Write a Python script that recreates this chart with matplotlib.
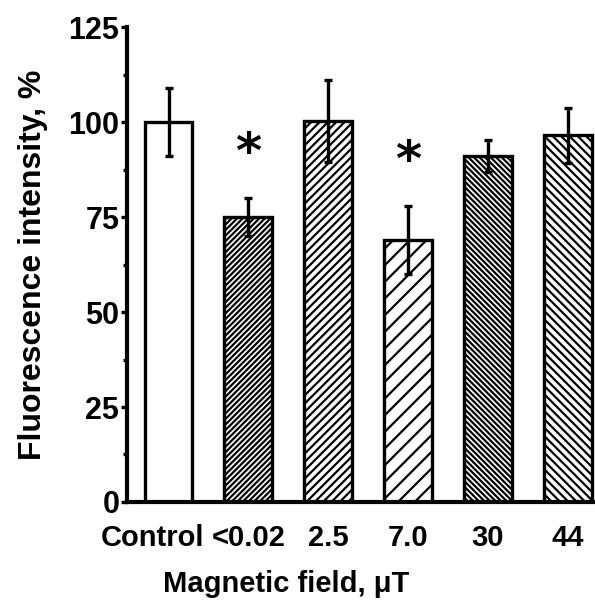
import matplotlib
matplotlib.use("Agg")
import matplotlib.pyplot as plt
import matplotlib.transforms as mtransforms
from matplotlib.ticker import MultipleLocator

# data
fields = ["Control", "<0.02", "2.5", "7.0", "30", "44"]
intensity = [100.0, 75.0, 100.3, 69.0, 91.0, 96.5]
sem = [9.0, 5.0, 10.8, 9.0, 4.2, 7.3]
signif = [False, True, False, True, False, False]
hatches = ["", "//////", "////", "//", "\\\\\\\\\\\\", "\\\\\\\\"]

plt.rcParams["font.family"] = ["Liberation Sans", "DejaVu Sans"]
plt.rcParams["font.weight"] = "bold"
plt.rcParams["hatch.linewidth"] = 1.6

fig = plt.figure(figsize=(5.95, 6.03), dpi=100)
ax = fig.add_axes([0.2134, 0.1675, 0.7866, 0.7877])

x = list(range(len(fields)))
ax.bar(x, intensity, width=0.6, color="white", edgecolor="black",
       linewidth=2.4, hatch=hatches, zorder=2)
ax.errorbar(x, intensity, yerr=sem, fmt="none", ecolor="black",
            elinewidth=2.4, capsize=3, capthick=2.4, zorder=3)

for xi, yi, e, s in zip(x, intensity, sem, signif):
    if s:
        ax.text(xi, yi + e + 11.5, "*", ha="center", va="center",
                fontsize=36, fontweight="bold", family=["DejaVu Sans"])

ax.set_xlim(-0.52, 5.34)
ax.set_ylim(0, 125)
ax.yaxis.set_major_locator(MultipleLocator(25))
ax.yaxis.set_minor_locator(MultipleLocator(12.5))
ax.set_xticks(x)
ax.set_xticklabels(fields, fontsize=21, fontweight="bold")
ax.tick_params(axis="x", length=0, pad=16)
ax.tick_params(axis="y", which="major", length=4.5, width=2.4, labelsize=22, pad=1)
ax.tick_params(axis="y", which="minor", length=3, width=2.4)

# the "Control" label sits a bit left of its bar in the original
lbl = ax.get_xticklabels()[0]
lbl.set_transform(lbl.get_transform() +
                  mtransforms.ScaledTranslation(-0.16, 0, fig.dpi_scale_trans))

for side in ["top", "right"]:
    ax.spines[side].set_visible(False)
for side in ["left", "bottom"]:
    ax.spines[side].set_linewidth(3)

ax.set_xlabel("Magnetic field, \u03bcT", fontsize=21, fontweight="bold")
ax.xaxis.label.set_va("center")
ax.xaxis.set_label_coords(0.34, -0.172)
ax.set_ylabel("Fluorescence intensity, %", fontsize=23, fontweight="bold")
ax.yaxis.label.set_va("center")
ax.yaxis.set_label_coords(-0.2, 0.5)

fig.savefig("out.png", dpi=100)
